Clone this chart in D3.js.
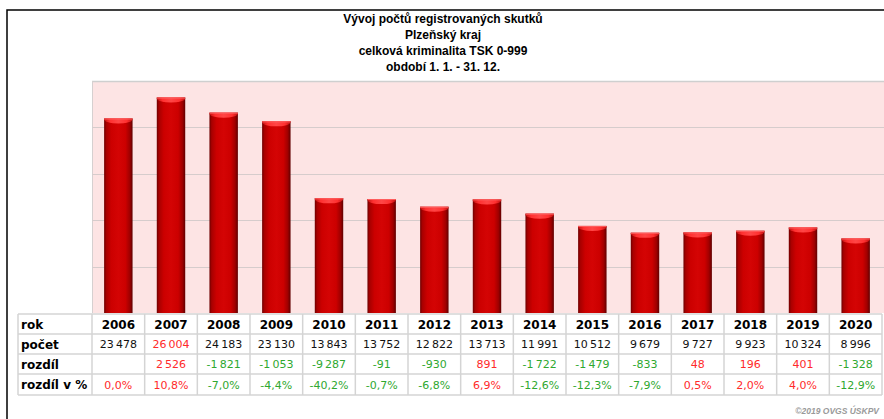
<!DOCTYPE html>
<html><head><meta charset="utf-8">
<script src="https://cdn.jsdelivr.net/npm/d3@7"></script>
<style>body{margin:0;background:#fff;}svg{display:block;}</style>
</head><body>
<script>
const titleLines = ["Vývoj počtů registrovaných skutků","Plzeňský kraj","celková kriminalita TSK 0-999","období 1. 1. - 31. 12."];
const years = ["2006","2007","2008","2009","2010","2011","2012","2013","2014","2015","2016","2017","2018","2019","2020"];
const pocet = [23478,26004,24183,23130,13843,13752,12822,13713,11991,10512,9679,9727,9923,10324,8996];
const rozdil = [null,2526,-1821,-1053,-9287,-91,-930,891,-1722,-1479,-833,48,196,401,-1328];
const rozdilPct = [0.0,10.8,-7.0,-4.4,-40.2,-0.7,-6.8,6.9,-12.6,-12.3,-7.9,0.5,2.0,4.0,-12.9];
const rowLabels = ["rok","počet","rozdíl","rozdíl v %"];
const yMax = 28000, gridStep = 5600;
const copyright = "©2019 OVGS ÚSKPV";

const W = 884, H = 419;
const svg = d3.select("body").append("svg").attr("width", W).attr("height", H);
svg.append("rect").attr("width", W).attr("height", H).attr("fill", "#fff");

// frame
svg.append("path").attr("d", "M7,419 V10 H884").attr("fill","none").attr("stroke","#000").attr("stroke-width",1.5);

// title
svg.append("g").selectAll("text").data(titleLines).join("text")
  .attr("x", 443).attr("y", (d,i)=>23 + i*16)
  .attr("text-anchor","middle")
  .attr("font-family","Liberation Sans, Arial, sans-serif")
  .attr("font-weight","bold").attr("font-size","12px").attr("fill","#000")
  .text(d=>d);

const plotL = 92, plotR = 882, plotT = 81, plotB = 313;
const x = d3.scaleBand().domain(years).range([plotL, plotR]).padding(0);
const y = d3.scaleLinear().domain([0, yMax]).range([plotB, plotT]);

// plot bg
svg.append("rect").attr("x", plotL).attr("y", plotT).attr("width", W - plotL).attr("height", plotB - plotT).attr("fill", "#fde4e4");
svg.append("line").attr("x1", plotL).attr("x2", W).attr("y1", plotT+0.5).attr("y2", plotT+0.5).attr("stroke","#cfcfcf").attr("stroke-width",1.5);
svg.append("line").attr("x1", plotL+0.5).attr("x2", plotL+0.5).attr("y1", plotT).attr("y2", plotB).attr("stroke","#d6d0d0").attr("stroke-width",1);
const gridVals = d3.range(gridStep, yMax, gridStep);
svg.append("g").selectAll("line").data(gridVals).join("line")
  .attr("x1", plotL).attr("x2", W)
  .attr("y1", d=>Math.round(y(d))+0.5).attr("y2", d=>Math.round(y(d))+0.5)
  .attr("stroke","#d6cccc").attr("stroke-width",1.2);

// gradients
const defs = svg.append("defs");
const g = defs.append("linearGradient").attr("id","barGrad").attr("x1","0").attr("x2","1").attr("y1","0").attr("y2","0");
[[0,"#6e0000"],[0.08,"#a80000"],[0.25,"#cc0000"],[0.5,"#d40404"],[0.75,"#cc0000"],[0.9,"#a00000"],[1,"#600000"]]
  .forEach(([o,c])=>g.append("stop").attr("offset",o).attr("stop-color",c));
const gc = defs.append("linearGradient").attr("id","capGrad").attr("x1","0").attr("x2","1").attr("y1","0").attr("y2","0");
[[0,"#c01010"],[0.2,"#ff3030"],[0.5,"#ff4646"],[0.8,"#ff3030"],[1,"#c01010"]]
  .forEach(([o,c])=>gc.append("stop").attr("offset",o).attr("stop-color",c));

const bw = x.bandwidth() * 0.54;
const bars = svg.append("g").selectAll("g").data(years.map((yr,i)=>({yr, v:pocet[i]}))).join("g");
bars.append("rect")
  .attr("x", d=>x(d.yr) + (x.bandwidth()-bw)/2)
  .attr("y", d=>y(d.v)).attr("width", bw).attr("height", d=>plotB - y(d.v))
  .attr("fill","url(#barGrad)");
// top cap: lower half of ellipse inside bar
bars.append("path")
  .attr("d", d=>{
    const x0 = x(d.yr) + (x.bandwidth()-bw)/2, x1 = x0 + bw, t = y(d.v);
    return `M${x0},${t} H${x1} V${t+1} A${bw/2},4 0 0 1 ${x0},${t+1} Z`;
  })
  .attr("fill","url(#capGrad)");
bars.append("line")
  .attr("x1", d=>x(d.yr) + (x.bandwidth()-bw)/2).attr("x2", d=>x(d.yr) + (x.bandwidth()+bw)/2)
  .attr("y1", d=>y(d.v)+0.5).attr("y2", d=>y(d.v)+0.5)
  .attr("stroke","#ff6060").attr("stroke-width",1);

// table
const tL = 18, rowTops = [314, 334, 354, 374, 395];
const tbl = svg.append("g");
tbl.append("rect").attr("x", tL).attr("y", rowTops[0]).attr("width", plotR - tL).attr("height", rowTops[4]-rowTops[0]).attr("fill","#fff");
// horizontal lines
tbl.selectAll("line.h").data(rowTops).join("line").attr("class","h")
  .attr("x1", tL).attr("x2", plotR).attr("y1", d=>d).attr("y2", d=>d)
  .attr("stroke","#d4d4d4").attr("stroke-width",1.5);
// vertical lines
const vx = [tL].concat(years.map(yr=>x(yr))).concat([plotR]);
tbl.selectAll("line.v").data(vx).join("line").attr("class","v")
  .attr("x1", d=>d).attr("x2", d=>d).attr("y1", rowTops[0]).attr("y2", rowTops[4])
  .attr("stroke","#d4d4d4").attr("stroke-width",1.5);

const font = "DejaVu Sans, Verdana, sans-serif";
tbl.selectAll("text.lab").data(rowLabels).join("text").attr("class","lab")
  .attr("x", tL + 3).attr("y", (d,i)=>rowTops[i] + 14.5)
  .attr("font-family", font).attr("font-weight","bold").attr("font-size","12px").attr("fill","#000")
  .text(d=>d);

const red = "#ff2a2a", green = "#2fa82f";
const fmtInt = v => {
  const s = Math.abs(v).toString().replace(/\B(?=(\d{3})+(?!\d))/g, "\u2009");
  return (v < 0 ? "-" : "") + s;
};
const fmtPct = v => v.toFixed(1).replace(".", ",") + "%";
const maxV = d3.max(pocet);
const cx = yr => x(yr) + x.bandwidth()/2;

tbl.selectAll("text.yr").data(years).join("text").attr("class","yr")
  .attr("x", d=>cx(d)).attr("y", rowTops[0]+14.5).attr("text-anchor","middle")
  .attr("font-family", font).attr("font-weight","bold").attr("font-size","12px").attr("fill","#000")
  .text(d=>d);
tbl.selectAll("text.pc").data(pocet).join("text").attr("class","pc")
  .attr("x", (d,i)=>cx(years[i])).attr("y", rowTops[1]+14).attr("text-anchor","middle")
  .attr("font-family", font).attr("font-size","11px").attr("fill", d=>d===maxV ? red : "#111")
  .text(d=>fmtInt(d));
tbl.selectAll("text.rz").data(rozdil).join("text").attr("class","rz")
  .attr("x", (d,i)=>cx(years[i])).attr("y", rowTops[2]+14).attr("text-anchor","middle")
  .attr("font-family", font).attr("font-size","11px").attr("fill", d=>d>=0 ? red : green)
  .text(d=>d===null ? "" : fmtInt(d));
tbl.selectAll("text.rp").data(rozdilPct).join("text").attr("class","rp")
  .attr("x", (d,i)=>cx(years[i])).attr("y", rowTops[3]+14.5).attr("text-anchor","middle")
  .attr("font-family", font).attr("font-size","11px").attr("fill", d=>d>=0 ? red : green)
  .text(d=>fmtPct(d));

svg.append("text").attr("x", 879).attr("y", 414).attr("text-anchor","end")
  .attr("font-family","Liberation Sans, Arial, sans-serif").attr("font-style","italic").attr("font-weight","bold")
  .attr("font-size","8.5px").attr("fill","#9a9a9a").text(copyright);
</script>
</body></html>
